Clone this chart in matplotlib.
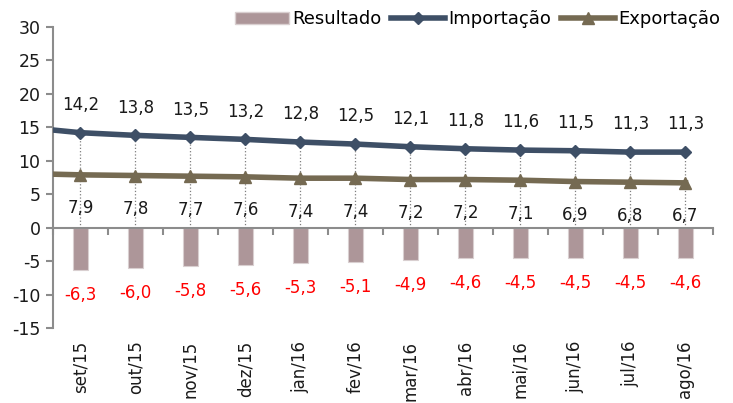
import numpy as np
import matplotlib
matplotlib.use("Agg")
import matplotlib.pyplot as plt
from matplotlib.patches import Patch
from matplotlib.lines import Line2D

plt.rcParams['font.family'] = ['DejaVu Sans']
plt.rcParams['axes.unicode_minus'] = False

meses = ['set/15', 'out/15', 'nov/15', 'dez/15', 'jan/16', 'fev/16',
         'mar/16', 'abr/16', 'mai/16', 'jun/16', 'jul/16', 'ago/16']
importacao = [14.2, 13.8, 13.5, 13.2, 12.8, 12.5, 12.1, 11.8, 11.6, 11.5, 11.3, 11.3]
exportacao = [7.9, 7.8, 7.7, 7.6, 7.4, 7.4, 7.2, 7.2, 7.1, 6.9, 6.8, 6.7]
resultado = [-6.3, -6.0, -5.8, -5.6, -5.3, -5.1, -4.9, -4.6, -4.5, -4.5, -4.5, -4.6]
# previous month (ago/15), only the lead-in segment shows at the left edge
imp_anterior = 15.0
exp_anterior = 8.1

cor_imp = '#3E4F66'
cor_exp = '#756A52'
cor_res = '#AD9699'
cinza = '#8C8C8C'

fig = plt.figure(figsize=(7.33, 4.03), dpi=100)
ax = fig.add_axes([0.0723, 0.186, 0.9004, 0.747])

x = np.arange(len(meses))

ax.vlines(x, 0, importacao, colors='#7F7F7F', linestyles=':', lw=0.9, zorder=1)
ax.bar(x, resultado, width=0.29, color=cor_res, edgecolor='#D9CFD0', lw=0.8, zorder=2)
ax.plot(np.r_[-1, x], [imp_anterior] + importacao, color=cor_imp, lw=4, zorder=3)
ax.plot(x, importacao, ls='none', marker='D', ms=6.5, color=cor_imp, zorder=4)
ax.plot(np.r_[-1, x], [exp_anterior] + exportacao, color=cor_exp, lw=4, zorder=3)
ax.plot(x, exportacao, ls='none', marker='^', ms=9, color=cor_exp, zorder=4)

for i in range(len(meses)):
    ax.annotate(f'{importacao[i]:.1f}'.replace('.', ','), (x[i], importacao[i]),
                xytext=(0, 20), textcoords='offset points', ha='center', va='center',
                fontsize=12, color='#1A1A1A')
    ax.annotate(f'{exportacao[i]:.1f}'.replace('.', ','), (x[i], exportacao[i]),
                xytext=(0, -24), textcoords='offset points', ha='center', va='center',
                fontsize=12, color='#1A1A1A')
    ax.annotate(f'{resultado[i]:.1f}'.replace('.', ','), (x[i], resultado[i]),
                xytext=(0, -18), textcoords='offset points', ha='center', va='center',
                fontsize=12, color='#FF0000')
    ax.annotate(meses[i], (x[i], -15), xytext=(0, -9), textcoords='offset points',
                ha='center', va='top', rotation=90, fontsize=12, color='#1A1A1A',
                annotation_clip=False)

ax.set_xlim(-0.5, len(meses) - 0.5)
ax.set_ylim(-15, 30)
ax.set_yticks(np.arange(-15, 31, 5))
ax.set_xticks(np.arange(-0.5, len(meses), 1))
ax.set_xticklabels([])

for s in ['top', 'right']:
    ax.spines[s].set_visible(False)
ax.spines['bottom'].set_position(('data', 0))
for s in ['left', 'bottom']:
    ax.spines[s].set_color(cinza)
    ax.spines[s].set_linewidth(1.5)
ax.tick_params(axis='y', direction='out', length=5, width=1.5, color=cinza,
               labelsize=12.5, labelcolor='#1A1A1A', pad=4)
ax.tick_params(axis='x', direction='out', length=5, width=1.5, color=cinza)

handles = [Patch(facecolor=cor_res, edgecolor='#D9CFD0'),
           Line2D([], [], color=cor_imp, lw=4, marker='D', ms=6.5),
           Line2D([], [], color=cor_exp, lw=4, marker='^', ms=9)]
fig.legend(handles, ['Resultado', 'Importação', 'Exportação'], ncol=3,
           loc='upper right', bbox_to_anchor=(1.005, 1.015), frameon=False,
           fontsize=13, handlelength=3.0, handletextpad=0.2, columnspacing=0.5)

fig.savefig('out.png', dpi=100)
